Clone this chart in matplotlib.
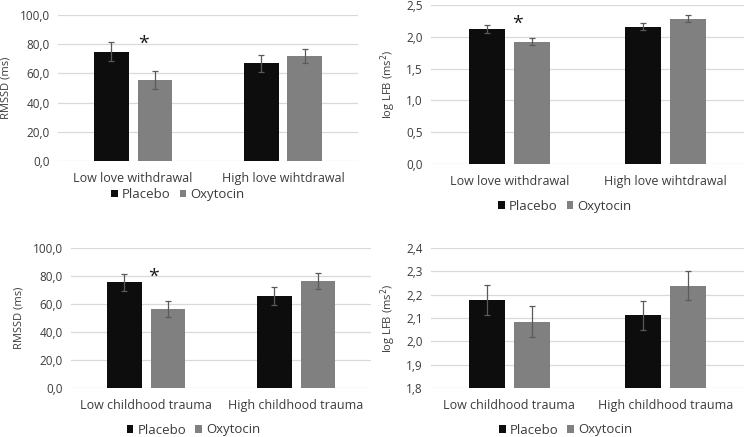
import numpy as np
import matplotlib
matplotlib.use("Agg")
import matplotlib.pyplot as plt
from matplotlib.ticker import FuncFormatter

plt.rcParams["font.family"] = ["Open Sans", "DejaVu Sans"]

# ── Data ──────────────────────────────────────────────────────────────────────

LOVE_CATS   = ["Low love withdrawal", "High love wihtdrawal"]
TRAUMA_CATS = ["Low childhood trauma", "High childhood trauma"]

rmssd_love_placebo   = [75.0, 66.8]
rmssd_love_oxytocin  = [55.5, 71.8]
rmssd_love_placebo_err  = [6.5, 6.0]
rmssd_love_oxytocin_err = [6.0, 5.0]

lfb_love_placebo   = [2.12, 2.16]
lfb_love_oxytocin  = [1.92, 2.28]
lfb_love_placebo_err  = [0.06, 0.055]
lfb_love_oxytocin_err = [0.055, 0.055]

rmssd_trauma_placebo   = [75.5, 65.7]
rmssd_trauma_oxytocin  = [56.5, 76.2]
rmssd_trauma_placebo_err  = [6.2, 6.2]
rmssd_trauma_oxytocin_err = [5.8, 5.7]

lfb_trauma_placebo   = [2.177, 2.111]
lfb_trauma_oxytocin  = [2.085, 2.238]
lfb_trauma_placebo_err  = [0.065, 0.062]
lfb_trauma_oxytocin_err = [0.067, 0.062]

# ── Style ─────────────────────────────────────────────────────────────────────

C_PLACEBO  = "#0d0d0d"
C_OXYTOCIN = "#808080"
C_ERR      = "#5a5a5a"
C_GRID     = "#d9d9d9"
C_TEXT     = "#3b3b3b"

W, H = 745, 437


def comma(v, _):
    return f"{v:.1f}".replace(".", ",")


def panel(box, cats, plac, oxy, plac_err, oxy_err, ylim, step, ylabel,
          star=None, legend_x=0.42, legend_y=-0.32):
    left, top, right, bottom = box
    ax = fig.add_axes([left / W, 1 - bottom / H,
                       (right - left) / W, (bottom - top) / H])
    x = np.arange(len(cats))
    width, off = 0.228, 0.144
    ekw = dict(ecolor=C_ERR, elinewidth=0.9, capsize=2.5, capthick=0.9)
    ax.bar(x - off, plac, width, color=C_PLACEBO, label="Placebo",
           yerr=plac_err, error_kw=ekw, zorder=3)
    ax.bar(x + off, oxy, width, color=C_OXYTOCIN, label="Oxytocin",
           yerr=oxy_err, error_kw=ekw, zorder=3)

    ax.set_xlim(-0.5, 1.5)
    ax.set_ylim(*ylim)
    ax.set_yticks(np.arange(ylim[0], ylim[1] + step / 2, step))
    ax.yaxis.set_major_formatter(FuncFormatter(comma))
    ax.set_xticks(x)
    ax.set_xticklabels(cats)
    ax.grid(axis="y", color=C_GRID, linewidth=0.9, zorder=0)
    ax.set_axisbelow(True)
    for s in ax.spines.values():
        s.set_visible(False)
    ax.tick_params(length=0, labelsize=8.5, colors=C_TEXT, pad=6)
    ax.tick_params(axis="x", labelsize=9, pad=8)
    ax.set_ylabel(ylabel, fontsize=8, color=C_TEXT, labelpad=6)

    if star is not None:
        ax.text(star[0], star[1], "*", fontsize=14, ha="center", va="center",
                color="#1a1a1a")

    ax.legend(loc="center", bbox_to_anchor=(legend_x, legend_y), ncol=2,
              frameon=False, fontsize=9.5, handlelength=0.5,
              handleheight=0.5, handletextpad=0.3, columnspacing=0.7,
              labelcolor=C_TEXT)
    return ax


fig = plt.figure(figsize=(W / 100, H / 100), dpi=100)

panel((58, 15, 358, 161), LOVE_CATS,
      rmssd_love_placebo, rmssd_love_oxytocin,
      rmssd_love_placebo_err, rmssd_love_oxytocin_err,
      (0, 100), 20, "RMSSD (ms)", star=(0.07, 80),
      legend_x=0.40, legend_y=-0.23)

panel((431, 5, 744, 164), LOVE_CATS,
      lfb_love_placebo, lfb_love_oxytocin,
      lfb_love_placebo_err, lfb_love_oxytocin_err,
      (0, 2.5), 0.5, "log LFB (ms$^2$)", star=(0.05, 2.2),
      legend_x=0.427, legend_y=-0.265)

panel((71, 248, 371, 388), TRAUMA_CATS,
      rmssd_trauma_placebo, rmssd_trauma_oxytocin,
      rmssd_trauma_placebo_err, rmssd_trauma_oxytocin_err,
      (0, 100), 20, "RMSSD (ms)", star=(0.05, 79.5),
      legend_x=0.408, legend_y=-0.3)

panel((431, 248, 744, 388), TRAUMA_CATS,
      lfb_trauma_placebo, lfb_trauma_oxytocin,
      lfb_trauma_placebo_err, lfb_trauma_oxytocin_err,
      (1.8, 2.4), 0.1, "log LFB (ms$^2$)",
      legend_x=0.43, legend_y=-0.3)

fig.savefig("out.png", dpi=100)
